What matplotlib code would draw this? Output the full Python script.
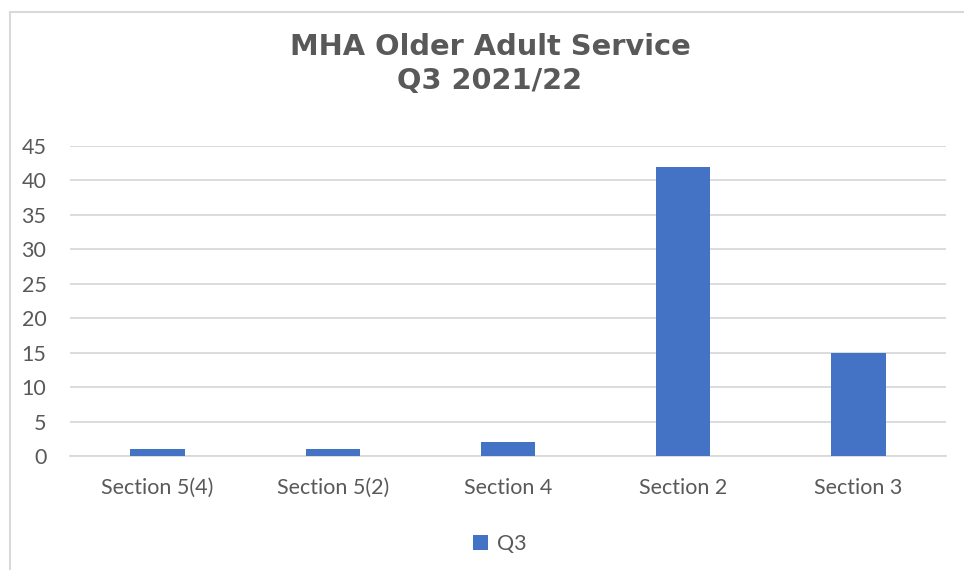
import matplotlib.pyplot as plt
from matplotlib.patches import Rectangle

categories = ["Section 5(4)", "Section 5(2)", "Section 4", "Section 2", "Section 3"]
q3_values = [1, 1, 2, 42, 15]
y_ticks = [0, 5, 10, 15, 20, 25, 30, 35, 40, 45]

text_color = "#595959"
grid_color = "#D9D9D9"
bar_color = "#4472C4"

fig = plt.figure(figsize=(9.64, 5.70), dpi=100)
ax = fig.add_axes([70 / 964, 1 - 456 / 570, 876 / 964, 310 / 570])

# chart frame (cropped on the right and bottom in the reference)
fig.patches.append(Rectangle((10 / 964, -0.1), 1.2, 1 - 12 / 570 + 0.1,
                             transform=fig.transFigure, fill=False,
                             edgecolor=grid_color, linewidth=1.5))

x = range(len(categories))
ax.bar(x, q3_values, width=0.31, color=bar_color, label="Q3", zorder=3)

ax.set_xlim(-0.5, len(categories) - 0.5)
ax.set_ylim(0, 45)
ax.set_yticks(y_ticks)
ax.set_xticks(list(x))
ax.set_xticklabels(categories)
ax.yaxis.grid(True, color=grid_color, linewidth=1.3, zorder=0)
ax.set_axisbelow(True)
for side in ["top", "right", "left"]:
    ax.spines[side].set_visible(False)
ax.spines["bottom"].set_color(grid_color)
ax.spines["bottom"].set_linewidth(1.3)
ax.tick_params(axis="both", length=0, colors=text_color, labelsize=15.5)
ax.tick_params(axis="y", pad=17)
ax.tick_params(axis="x", pad=16)
for lbl in ax.get_xticklabels() + ax.get_yticklabels():
    lbl.set_fontfamily("Lato")

fig.text(490 / 964, 1 - 64 / 570, "MHA Older Adult Service\nQ3 2021/22",
         ha="center", va="center", fontsize=20.8, fontweight="bold",
         color=text_color, family="DejaVu Sans", linespacing=1.28)

leg = fig.legend(loc="center", bbox_to_anchor=(500 / 964, 1 - 544 / 570),
                 frameon=False, handlelength=0.7, handleheight=0.7,
                 handletextpad=0.4, prop={"family": "Lato", "size": 15.5})
for t in leg.get_texts():
    t.set_color(text_color)

fig.savefig("out.png", dpi=100)
